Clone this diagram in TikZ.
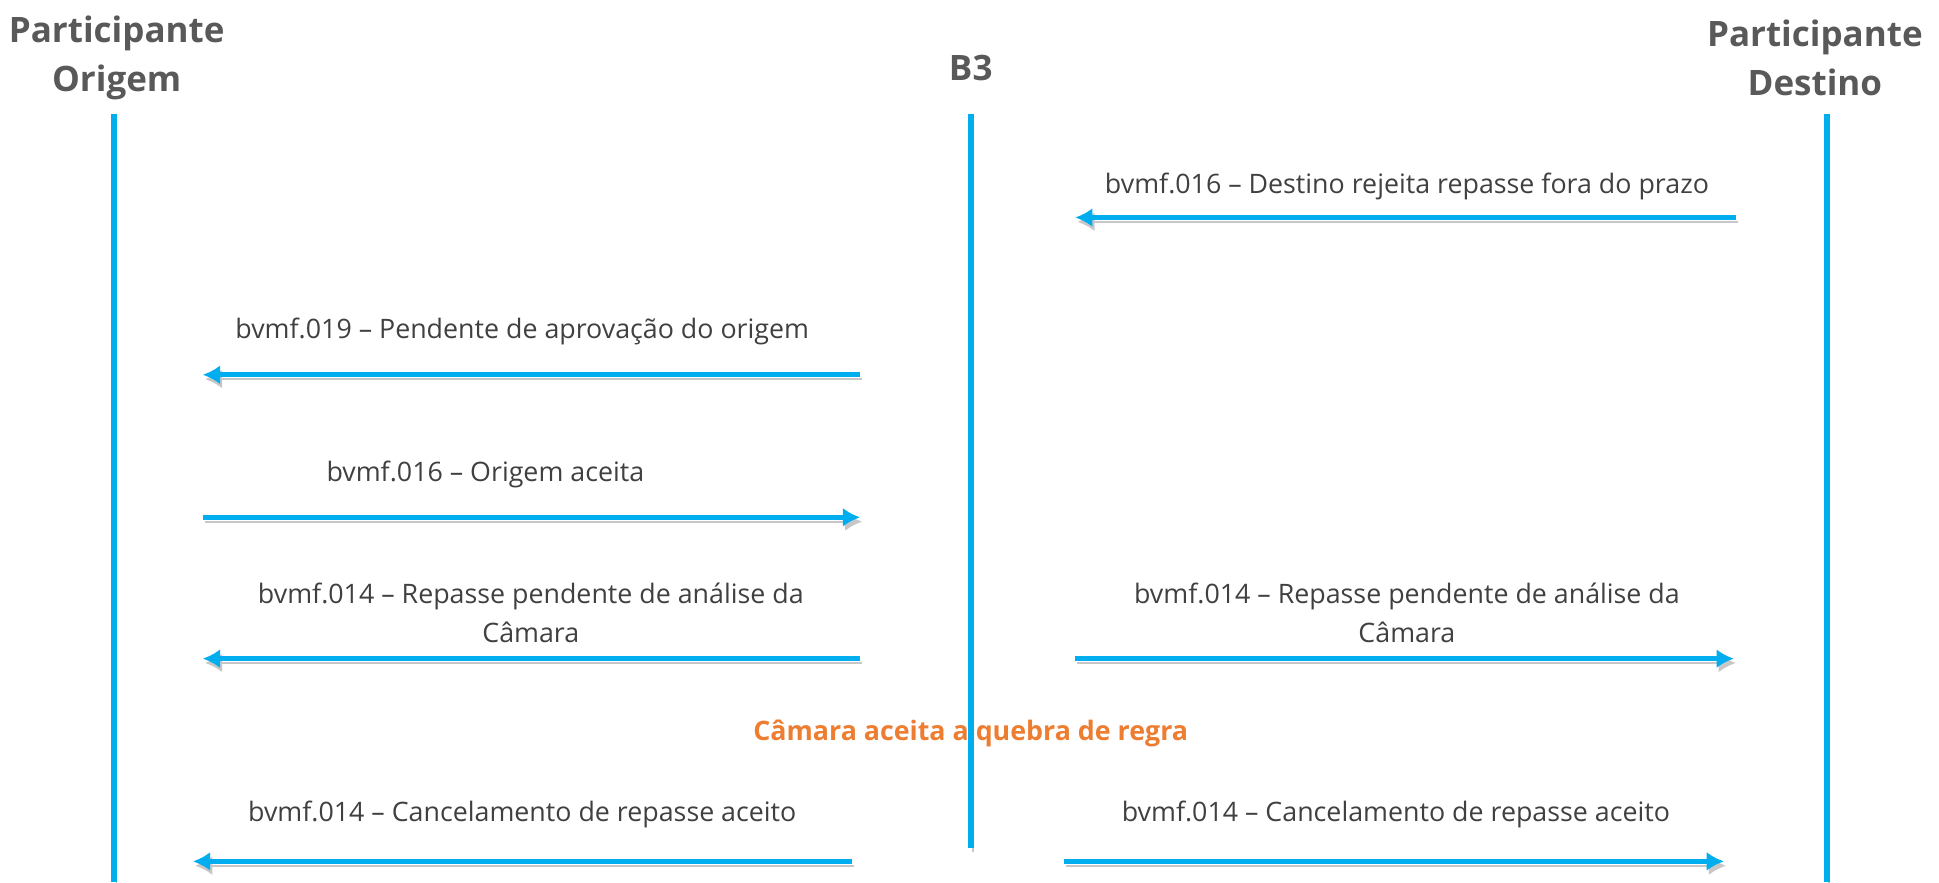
\documentclass[tikz,border=0pt]{standalone}
\usepackage{fontspec}
\setmainfont{Open Sans}
\usetikzlibrary{arrows.meta}
\definecolor{lifeblue}{RGB}{0,174,239}
\definecolor{headgray}{RGB}{89,89,89}
\definecolor{msggray}{RGB}{64,64,64}
\definecolor{ruleorange}{RGB}{237,125,49}
\tikzset{
  shadowed/.style={preaction={draw=black!22, transform canvas={shift={(0.5pt,-1pt)}}}},
  lifeline/.style={lifeblue, line width=1.4pt, shadowed},
  msg/.style={lifeblue, line width=1.1pt, shadowed, -{Latex[length=4pt,width=4.4pt]}},
  actorhead/.style={font=\bfseries\fontsize{8.1}{11.3}\selectfont, text=headgray, align=center},
  msgtext/.style={font=\fontsize{6.2}{9.1}\selectfont, text=msggray, align=center},
}
\begin{document}
\begin{tikzpicture}[x=0.01cm, y=-0.01cm]
    \useasboundingbox (0,0) rectangle (1578,718);
    % participants
    \node[actorhead] (orig) at (95,47) {Participante\\Origem};
    \node[actorhead] (bthree) at (790,55) {B3};
    \node[actorhead] (dest) at (1477,47) {Participante\\Destino};
    % lifelines
    \coordinate (orig top) at (93,93);
    \coordinate (orig end) at (93,718);
    \coordinate (bthree top) at (790,93);
    \coordinate (bthree end) at (790,690);
    \coordinate (dest top) at (1487,93);
    \coordinate (dest end) at (1487,718);
    \draw[lifeline] (orig top) -- (orig end);
    \draw[lifeline] (bthree top) -- (bthree end);
    \draw[lifeline] (dest top) -- (dest end);
    % messages
    \coordinate (rej a) at (1413,177);
    \coordinate (rej b) at (875,177);
    \draw[msg] (rej a) -- (rej b);
    \node[msgtext] (rej) at (1145,152) {bvmf.016 -- Destino rejeita repasse fora do prazo};
    \coordinate (pend a) at (700,305);
    \coordinate (pend b) at (165,305);
    \draw[msg] (pend a) -- (pend b);
    \node[msgtext] (pend) at (425,270) {bvmf.019 -- Pendente de aprovação do origem};
    \coordinate (acc a) at (165,421);
    \coordinate (acc b) at (700,421);
    \draw[msg] (acc a) -- (acc b);
    \node[msgtext] (acc) at (395,386) {bvmf.016 -- Origem aceita};
    \coordinate (anl a) at (700,536);
    \coordinate (anl b) at (165,536);
    \draw[msg] (anl a) -- (anl b);
    \node[msgtext] (anl) at (432,499) {bvmf.014 -- Repasse pendente de análise da\\Câmara};
    \coordinate (anr a) at (875,536);
    \coordinate (anr b) at (1411,536);
    \draw[msg] (anr a) -- (anr b);
    \node[msgtext] (anr) at (1145,499) {bvmf.014 -- Repasse pendente de análise da\\Câmara};
    \node[msgtext, font=\bfseries\fontsize{6.2}{9.1}\selectfont, text=ruleorange] (rule) at (790,597) {Câmara aceita a quebra de regra};
    \coordinate (cnl a) at (693,701);
    \coordinate (cnl b) at (157,701);
    \draw[msg] (cnl a) -- (cnl b);
    \node[msgtext] (cnl) at (425,663) {bvmf.014 -- Cancelamento de repasse aceito};
    \coordinate (cnr a) at (866,701);
    \coordinate (cnr b) at (1403,701);
    \draw[msg] (cnr a) -- (cnr b);
    \node[msgtext] (cnr) at (1136,663) {bvmf.014 -- Cancelamento de repasse aceito};
\end{tikzpicture}
\end{document}
